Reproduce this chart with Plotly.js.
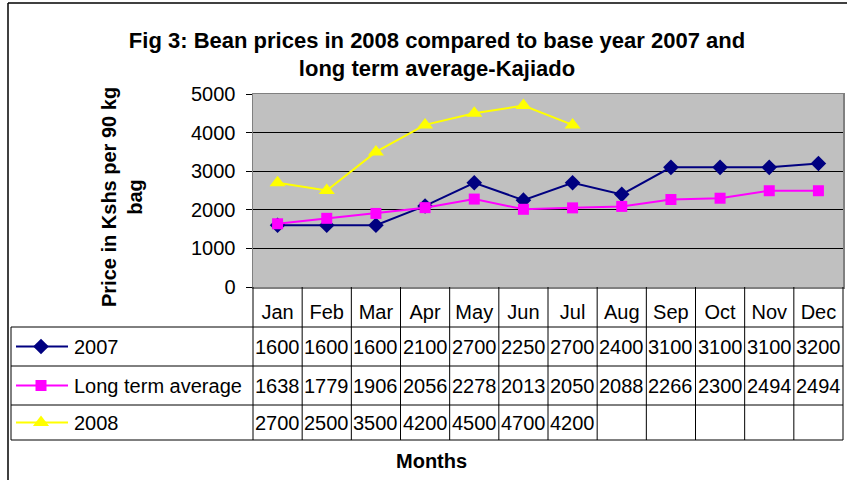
<!DOCTYPE html>
<html>
<head>
<meta charset="utf-8">
<script src="https://cdn.plot.ly/plotly-3.0.1.min.js"></script>
<style>html,body{margin:0;padding:0;background:#fff;}#chart{width:847px;height:480px;}</style>
</head>
<body>
<div id="chart"></div>
<script>
// ---- data ----
const months = ["Jan","Feb","Mar","Apr","May","Jun","Jul","Aug","Sep","Oct","Nov","Dec"];
const seriesNames = ["2007","Long term average","2008"];
const prices2007 = [1600,1600,1600,2100,2700,2250,2700,2400,3100,3100,3100,3200];
const pricesLongTerm = [1638,1779,1906,2056,2278,2013,2050,2088,2266,2300,2494,2494];
const prices2008 = [2700,2500,3500,4200,4500,4700,4200,null,null,null,null,null];
const yTicks = [0,1000,2000,3000,4000,5000];

// ---- styling / layout helpers ----
const W = 847, H = 480;
const FONT = "Arial, 'Liberation Sans', sans-serif";
const FS = 20;
const px = x => x / W;             // pixel -> paper x
const py = y => 1 - y / H;         // pixel -> paper y
const plotL = 253, plotR = 843, plotT = 94, plotB = 287;
const rowLines = [327, 366, 405, 440];
const rowCenters = [346.5, 385.5, 422.5];
const styles = [
  {color: "#000080", symbol: "diamond", size: 12},
  {color: "#FF00FF", symbol: "square", size: 11},
  {color: "#FFFF00", symbol: "triangle-up", size: 14}
];
const allSeries = [prices2007, pricesLongTerm, prices2008];

const traces = allSeries.map((vals, k) => ({
  type: "scatter", mode: "lines+markers",
  x: months, y: vals, name: seriesNames[k],
  line: {color: styles[k].color, width: 2},
  marker: {color: styles[k].color, symbol: styles[k].symbol, size: styles[k].size},
  connectgaps: false, showlegend: false, hoverinfo: "x+y",
  xaxis: "x", yaxis: "y"
}));

// legend-key traces drawn in the data-table's first column (pixel axes)
allSeries.forEach((vals, k) => {
  traces.push({
    type: "scatter", mode: "lines",
    x: [16, 68], y: [rowCenters[k], rowCenters[k]],
    line: {color: styles[k].color, width: 2},
    showlegend: false, hoverinfo: "skip", xaxis: "x2", yaxis: "y2"
  });
  traces.push({
    type: "scatter", mode: "markers",
    x: [41], y: [rowCenters[k]],
    marker: {color: styles[k].color, symbol: styles[k].symbol, size: styles[k].size},
    showlegend: false, hoverinfo: "skip", xaxis: "x2", yaxis: "y2"
  });
});

const shapes = [];
const lineStyle = {color: "#000000", width: 1};
// plot background
shapes.push({type: "rect", xref: "x domain", yref: "y domain", x0: 0, x1: 1, y0: 0, y1: 1,
  fillcolor: "#C0C0C0", line: {width: 0}, layer: "below"});
// outer chart border (left & top)
shapes.push({type: "line", xref: "paper", yref: "paper", x0: px(8), x1: px(8), y0: py(3), y1: py(480), line: {color: "#000", width: 1.5}});
shapes.push({type: "line", xref: "paper", yref: "paper", x0: px(8), x1: px(847), y0: py(3), y1: py(3), line: {color: "#000", width: 1.5}});
// table horizontal lines
rowLines.forEach(y => shapes.push({type: "line", xref: "paper", yref: "paper",
  x0: px(11), x1: px(plotR), y0: py(y), y1: py(y), line: lineStyle}));
// table left edge
shapes.push({type: "line", xref: "paper", yref: "paper", x0: px(11), x1: px(11), y0: py(327), y1: py(440), line: lineStyle});
// table edges at plot left/right
[plotL, plotR].forEach(x => shapes.push({type: "line", xref: "paper", yref: "paper",
  x0: px(x), x1: px(x), y0: py(plotB), y1: py(440), line: lineStyle}));
// inner category separators
for (let i = 1; i < months.length; i++) {
  shapes.push({type: "line", xref: "x", yref: "paper", x0: i - 0.5, x1: i - 0.5,
    y0: py(plotB), y1: py(440), line: lineStyle});
}

const annotations = [];
// row labels
seriesNames.forEach((n, k) => annotations.push({
  xref: "paper", yref: "paper", x: px(72), y: py(rowCenters[k]), xanchor: "left", yanchor: "middle",
  text: n, showarrow: false, font: {family: FONT, size: FS, color: "#000"}
}));
// table values
allSeries.forEach((vals, k) => vals.forEach((v, i) => {
  if (v === null) return;
  annotations.push({xref: "x", yref: "paper", x: months[i], y: py(rowCenters[k]),
    xanchor: "center", yanchor: "middle", text: String(v), showarrow: false,
    font: {family: FONT, size: FS, color: "#000"}});
}));
// axis titles
annotations.push({xref: "paper", yref: "paper", x: px(122), y: py(197), xanchor: "center", yanchor: "middle",
  text: "<b>Price in Kshs per 90 kg<br>bag</b>", textangle: -90, showarrow: false,
  font: {family: FONT, size: 20, color: "#000"}});
annotations.push({xref: "paper", yref: "paper", x: px(431), y: py(461), xanchor: "center", yanchor: "middle",
  text: "<b>Months</b>", showarrow: false, font: {family: FONT, size: 20, color: "#000"}});

const layout = {
  width: W, height: H,
  margin: {l: 0, r: 0, t: 0, b: 0, pad: 0},
  paper_bgcolor: "#FFFFFF", plot_bgcolor: "rgba(0,0,0,0)",
  showlegend: false,
  title: {text: "<b>Fig 3: Bean prices in 2008 compared to base year 2007 and<br>long term average-Kajiado</b>",
    x: px(437), xanchor: "center", y: py(47.5), yanchor: "middle", yref: "container",
    font: {family: FONT, size: 22, color: "#000"}},
  xaxis: {domain: [px(plotL), px(plotR)], type: "category", range: [-0.5, 11.5],
    showgrid: false, zeroline: false, showline: true, linecolor: "#808080", linewidth: 1.5, mirror: true,
    ticks: "", ticklabelstandoff: 6, tickfont: {family: FONT, size: FS, color: "#000"}, fixedrange: true},
  yaxis: {domain: [py(plotB), py(plotT)], range: [0, 5000], tickvals: yTicks, ticktext: yTicks.map(String),
    showgrid: true, gridcolor: "#000000", gridwidth: 1, zeroline: false,
    showline: true, linecolor: "#808080", linewidth: 1.5, mirror: true,
    ticks: "outside", ticklen: 6, tickcolor: "#000", ticklabelstandoff: 6,
    tickfont: {family: FONT, size: FS, color: "#000"}, fixedrange: true},
  xaxis2: {domain: [0, 1], range: [0, W], visible: false, fixedrange: true, anchor: "y2"},
  yaxis2: {domain: [0, 1], range: [H, 0], visible: false, fixedrange: true, anchor: "x2"},
  shapes: shapes, annotations: annotations
};

Plotly.newPlot("chart", traces, layout, {displayModeBar: false, staticPlot: true});
</script>
</body>
</html>
